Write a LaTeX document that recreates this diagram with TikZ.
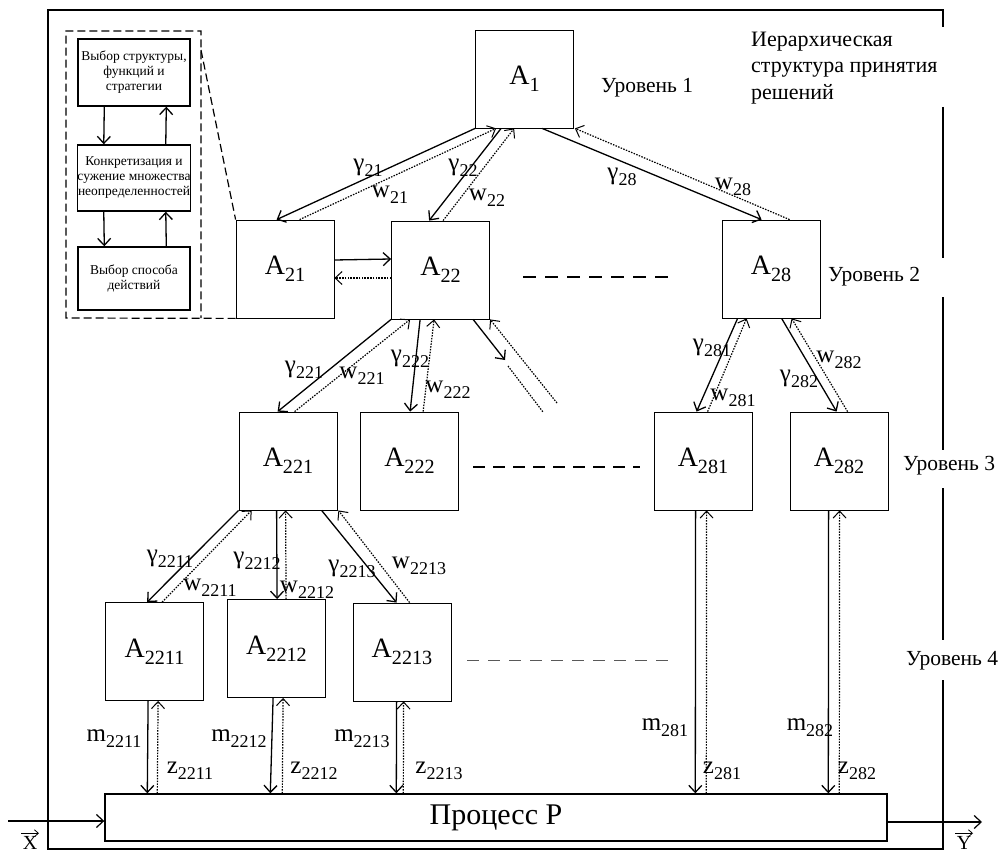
\documentclass[tikz,border=0pt]{standalone}
\usepackage{fontspec}
\setmainfont{Liberation Serif}
\usetikzlibrary{arrows.meta,calc}
\newcommand\Sb[2]{#1\raisebox{-0.24em}{\scalebox{0.72}{#2}}}
\tikzset{
  box/.style={draw, line width=0.8pt, minimum width=98pt, minimum height=98pt, inner sep=0pt, font=\fontsize{28}{28}\selectfont},
  ibox/.style={draw, line width=1.4pt, minimum width=112pt, inner sep=0pt, align=center, font=\fontsize{13.5}{15}\selectfont},
  sarr/.style={line width=1.3pt, -{Straight Barb[length=7pt,width=13pt]}},
  darr/.style={line width=1.2pt, dash pattern=on 1.5pt off 1.3pt, -{Straight Barb[length=7pt,width=13pt,line width=1pt]}},
  dline/.style={line width=1.2pt, dash pattern=on 1.5pt off 1.3pt},
  lbl/.style={inner sep=0pt, font=\fontsize{25}{25}\selectfont},
  lev/.style={inner sep=0pt, font=\fontsize{21.5}{21.5}\selectfont},
  lvldash/.style={line width=1.1pt, dash pattern=on 13pt off 9pt},
  io/.style={line width=1.2pt, -{Straight Barb[length=7pt,width=13pt]}},
  vecarr/.style={line width=0.8pt, -{Straight Barb[length=4pt,width=7pt]}},
}
\begin{document}
\begin{tikzpicture}[x=1pt,y=-1pt]
\useasboundingbox (0,0) rectangle (1004,853);
% frame
\draw[line width=1.5pt] (943,27) -- (943,10) -- (48,10) -- (48,849) -- (943,849) -- (943,680);
\draw[line width=1.5pt] (943,107) -- (943,258);
\draw[line width=1.5pt] (943,297) -- (943,450);
\draw[line width=1.5pt] (943,488) -- (943,640);

% boxes
\node[box] (A1) at (524.5,79) {\Sb{A}{1}};
\node[box] (A21) at (285,269) {\Sb{A}{21}};
\node[box] (A22) at (440.5,270) {\Sb{A}{22}};
\node[box] (A28) at (771,269) {\Sb{A}{28}};
\node[box] (A221) at (288,461) {\Sb{A}{221}};
\node[box] (A222) at (409.5,461) {\Sb{A}{222}};
\node[box] (A281) at (703,461) {\Sb{A}{281}};
\node[box] (A282) at (839,461) {\Sb{A}{282}};
\node[box] (A2211) at (154.5,651.5) {\Sb{A}{2211}};
\node[box] (A2212) at (276.5,648.5) {\Sb{A}{2212}};
\node[box] (A2213) at (402,652) {\Sb{A}{2213}};
\node[draw, line width=1.4pt, minimum width=782pt, minimum height=47pt, inner sep=0pt,
      font=\fontsize{30}{30}\selectfont] (P) at (496,817.5) {Процесс P};

% inset
\node[ibox, minimum height=67pt] (B1) at (134,72.5) {Выбор структуры,\\функций и\\стратегии};
\node[ibox, minimum height=66pt] (B2) at (134,178) {Конкретизация и\\сужение множества\\неопределенностей};
\node[ibox, minimum height=63pt] (B3) at (134,278.5) {Выбор способа\\действий};
\draw[line width=1.2pt, dash pattern=on 8pt off 4pt] (A21.south west) -- (66,318) -- (66,31) -- (201,31) -- (201,318);
\coordinate (insTR) at (201,50);
\draw[line width=1.2pt, dash pattern=on 8pt off 4pt] (insTR) -- (A21.north west);
\draw[sarr] ([xshift=27pt]B1.south west) -- ([xshift=27pt]B2.north west);
\draw[sarr] ([xshift=89pt]B2.north west) -- ([xshift=89pt]B1.south west);
\draw[sarr] ([xshift=27pt]B2.south west) -- ([xshift=27pt]B3.north west);
\draw[sarr] ([xshift=89pt]B3.north west) -- ([xshift=89pt]B2.south west);

% level 1 -> 2
\draw[sarr] (A1.south west) -- ([xshift=41pt]A21.north west);
\draw[darr] ([xshift=64pt]A21.north west) -- ([xshift=21pt]A1.south west);
\draw[sarr] ([xshift=26pt]A1.south west) -- ([xshift=38pt]A22.north west);
\draw[darr] ([xshift=52pt]A22.north west) -- ([xshift=39pt]A1.south west);
\draw[sarr] ([xshift=67pt]A1.south west) -- ([xshift=40pt]A28.north west);
\draw[darr] ([xshift=68pt]A28.north west) -- ([xshift=1pt]A1.south east);
% A21 <-> A22
\draw[sarr] ([yshift=9pt]A21.east) -- ([yshift=11pt]A22.west);
\draw[darr] ([yshift=-8pt]A22.west) -- ([yshift=-9pt]A21.east);

% level 2 -> 3
\draw[sarr] (A22.south west) -- ([xshift=39pt]A221.north west);
\draw[darr] ([xshift=56pt]A221.north west) -- ([xshift=19pt]A22.south west);
\draw[sarr] ([xshift=29pt]A22.south west) -- ([xshift=50pt]A222.north west);
\draw[darr] ([xshift=63pt]A222.north west) -- ([xshift=43pt]A22.south west);
\coordinate (o1) at (505,360);
\coordinate (o2) at (508,366);
\coordinate (o3) at (543,412);
\coordinate (o4) at (557,403);
\draw[sarr] ([xshift=82pt]A22.south west) -- (o1);
\draw[dline] (o2) -- (o3);
\draw[darr] (o4) -- ([xshift=99pt]A22.south west);
\draw[sarr] ([xshift=16pt]A28.south west) -- ([xshift=43pt]A281.north west);
\draw[darr] ([xshift=54pt]A281.north west) -- ([xshift=25pt]A28.south west);
\draw[sarr] ([xshift=60pt]A28.south west) -- ([xshift=47pt]A282.north west);
\draw[darr] ([xshift=58pt]A282.north west) -- ([xshift=70pt]A28.south west);

% level 3 -> 4
\draw[sarr] (A221.south west) -- ([xshift=42pt]A2211.north west);
\draw[darr] ([xshift=57pt]A2211.north west) -- ([xshift=13pt]A221.south west);
\draw[sarr] ([xshift=38pt]A221.south west) -- ([xshift=50pt]A2212.north west);
\draw[darr] ([xshift=59pt]A2212.north west) -- ([xshift=47pt]A221.south west);
\draw[sarr] ([xshift=83pt]A221.south west) -- ([xshift=44pt]A2213.north west);
\draw[darr] ([xshift=57pt]A2213.north west) -- ([xshift=1pt]A221.south east);

% to process
\draw[sarr] ([xshift=43pt]A2211.south west) -- ([xshift=43pt]P.north west);
\draw[darr] ([xshift=53pt]P.north west) -- ([xshift=53pt]A2211.south west);
\draw[sarr] ([xshift=46pt]A2212.south west) -- ([xshift=166pt]P.north west);
\draw[darr] ([xshift=178pt]P.north west) -- ([xshift=56pt]A2212.south west);
\draw[sarr] ([xshift=44pt]A2213.south west) -- ([xshift=292pt]P.north west);
\draw[darr] ([xshift=299pt]P.north west) -- ([xshift=51pt]A2213.south west);
\draw[sarr] ([xshift=42pt]A281.south west) -- ([xshift=591pt]P.north west);
\draw[darr] ([xshift=602pt]P.north west) -- ([xshift=53pt]A281.south west);
\draw[sarr] ([xshift=39pt]A282.south west) -- ([xshift=724pt]P.north west);
\draw[darr] ([xshift=735pt]P.north west) -- ([xshift=50pt]A282.south west);

% inputs/outputs
\coordinate (xin) at (8,821);
\coordinate (yout) at (982,822);
\draw[io] (xin) -- ([yshift=-3.5pt]P.west);
\draw[io] ([yshift=-4.5pt]P.east) -- (yout);
\node[inner sep=0pt, font=\fontsize{20}{20}\selectfont] (X) at (30,843) {X};
\node[inner sep=0pt, font=\fontsize{20}{20}\selectfont] (Y) at (964,843) {Y};
\draw[vecarr] ([xshift=-9pt,yshift=3pt]X.north) -- ([xshift=9pt,yshift=3pt]X.north);
\draw[vecarr] ([xshift=-9pt,yshift=3pt]Y.north) -- ([xshift=9pt,yshift=3pt]Y.north);

% dashed level lines
\coordinate (d2a) at (523,277); \coordinate (d2b) at (672,277);
\coordinate (d3a) at (473,467); \coordinate (d3b) at (640,467);
\coordinate (d4a) at (467,660); \coordinate (d4b) at (675,660);
\draw[lvldash] (d2a) -- (d2b);
\draw[lvldash, dash pattern=on 12pt off 8pt] (d3a) -- (d3b);
\draw[line width=0.8pt, gray!70!black, dash pattern=on 12pt off 9pt] (d4a) -- (d4b);

% labels
\node[lbl] (g21) at (368,168) {\Sb{γ}{21}};
\node[lbl] (w21) at (390,195) {\Sb{w}{21}};
\node[lbl] (g22) at (463,168) {\Sb{γ}{22}};
\node[lbl] (w22) at (487,198) {\Sb{w}{22}};
\node[lbl] (g28) at (622,177) {\Sb{γ}{28}};
\node[lbl] (w28) at (733,187) {\Sb{w}{28}};
\node[lbl] (g221) at (304,370) {\Sb{γ}{221}};
\node[lbl] (w221) at (362,376) {\Sb{w}{221}};
\node[lbl] (g222) at (410,359) {\Sb{γ}{222}};
\node[lbl] (w222) at (448,390) {\Sb{w}{222}};
\node[lbl] (g281) at (712,348) {\Sb{γ}{281}};
\node[lbl] (w281) at (733,398) {\Sb{w}{281}};
\node[lbl] (g282) at (799,379) {\Sb{γ}{282}};
\node[lbl] (w282) at (839,360) {\Sb{w}{282}};
\node[lbl] (g2211) at (170,559) {\Sb{γ}{2211}};
\node[lbl] (w2211) at (210,588) {\Sb{w}{2211}};
\node[lbl] (g2212) at (257,561) {\Sb{γ}{2212}};
\node[lbl] (w2212) at (307,590) {\Sb{w}{2212}};
\node[lbl] (g2213) at (352,569) {\Sb{γ}{2213}};
\node[lbl] (w2213) at (419,566) {\Sb{w}{2213}};
\node[lbl] (m2211) at (114,739) {\Sb{m}{2211}};
\node[lbl] (z2211) at (190,771) {\Sb{z}{2211}};
\node[lbl] (m2212) at (239,739) {\Sb{m}{2212}};
\node[lbl] (z2212) at (314,771) {\Sb{z}{2212}};
\node[lbl] (m2213) at (362,739) {\Sb{m}{2213}};
\node[lbl] (z2213) at (439,771) {\Sb{z}{2213}};
\node[lbl] (m281) at (665,728) {\Sb{m}{281}};
\node[lbl] (z281) at (722,771) {\Sb{z}{281}};
\node[lbl] (m282) at (810,728) {\Sb{m}{282}};
\node[lbl] (z282) at (857,771) {\Sb{z}{282}};

% level texts
\node[lev, anchor=west] (L1) at (601,88) {Уровень 1};
\node[lev, anchor=west] (L2) at (828,277) {Уровень 2};
\node[lev, anchor=west] (L3) at (903,466) {Уровень 3};
\node[lev, anchor=west] (L4) at (906,661) {Уровень 4};
\node[lev, anchor=west, align=left, font=\fontsize{22}{26.5}\selectfont] (H) at (751,68) {Иерархическая\\структура принятия\\решений};
\end{tikzpicture}
\end{document}
